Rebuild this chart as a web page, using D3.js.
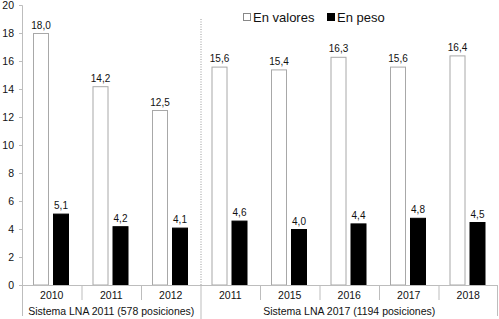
<!DOCTYPE html>
<html><head><meta charset="utf-8">
<script src="https://cdn.jsdelivr.net/npm/d3@7"></script>
<style>body{margin:0;background:#fff}svg{display:block;font-family:"Liberation Sans",Arial,sans-serif}</style>
</head><body><svg id="c" width="499" height="319"></svg>
<script>
const years = ["2010","2011","2012","2011","2015","2016","2017","2018"];
const enValores = [18.0,14.2,12.5,15.6,15.4,16.3,15.6,16.4];
const enPeso = [5.1,4.2,4.1,4.6,4.0,4.4,4.8,4.5];
const groups = ["Sistema LNA 2011 (578 posiciones)","Sistema LNA 2017 (1194 posiciones)"];
const groupSizes = [3,5];
const yTicks = [0,2,4,6,8,10,12,14,16,18,20];
const seriesNames = ["En valores","En peso"];

const svg = d3.select("#c");
const fmt = v => d3.format(".1f")(v).replace(".", ",");
const x = d3.scaleBand().domain(d3.range(years.length)).range([22, 498]).padding(0);
const xs = d3.scaleBand().domain([0,1]).range([11, 47]).paddingInner(0.2);
const y = d3.scaleLinear().domain([0,20]).range([285,5]);
const axisCol = "#bdbdbd", txt = "#111";

// y axis
const ya = svg.append("g").attr("transform","translate(22,0)")
  .call(d3.axisLeft(y).tickValues(yTicks).tickSize(3).tickPadding(5));
ya.select(".domain").attr("stroke",axisCol);
ya.selectAll(".tick line").attr("stroke",axisCol);
ya.selectAll("text").attr("font-size",10.5).attr("fill",txt).attr("font-family","Liberation Sans, Arial");

// group divider dotted
const divX = x(groupSizes[0]);
svg.append("line").attr("x1",divX+0.5).attr("x2",divX+0.5).attr("y1",y(19)).attr("y2",y(0))
  .attr("stroke","#999").attr("stroke-dasharray","1,1.5");

// bars
const series = [enValores, enPeso];
series.forEach((vals,si)=>{
  svg.append("g").selectAll("rect").data(vals).join("rect")
    .attr("x",(d,i)=>x(i)+xs(si)+0.5).attr("width",xs.bandwidth()-1)
    .attr("y",d=>y(d)+0.5).attr("height",d=>y(0)-y(d)-0.5)
    .attr("fill",si===0?"#fff":"#000").attr("stroke",si===0?"#a8a8a8":"#000").attr("stroke-width",1);
  svg.append("g").selectAll("text").data(vals).join("text")
    .attr("x",(d,i)=>x(i)+xs(si)+xs.bandwidth()/2).attr("y",d=>y(d)-4.5)
    .attr("text-anchor","middle").attr("font-size",10).attr("fill",txt).text(fmt);
});

// x axis line
svg.append("line").attr("x1",22).attr("x2",498).attr("y1",285.5).attr("y2",285.5).attr("stroke",axisCol);
// category separators
d3.range(1, years.length).forEach(i=>{
  const isDiv = i===groupSizes[0];
  svg.append("line").attr("x1",x(i)+0.5).attr("x2",x(i)+0.5).attr("y1",285).attr("y2",isDiv?319:300).attr("stroke",axisCol);
});
svg.append("line").attr("x1",22.5).attr("x2",22.5).attr("y1",285).attr("y2",316).attr("stroke",axisCol);
svg.append("line").attr("x1",497.5).attr("x2",497.5).attr("y1",285).attr("y2",316).attr("stroke",axisCol);

// year labels
svg.append("g").selectAll("text").data(years).join("text")
  .attr("x",(d,i)=>x(i)+x.bandwidth()/2).attr("y",299).attr("text-anchor","middle")
  .attr("font-size",10.5).attr("fill",txt).text(d=>d);
// group labels
let start=0;
groups.forEach((g,gi)=>{
  const x0 = x(start), x1 = x(start+groupSizes[gi]-1)+x.bandwidth();
  svg.append("text").attr("x",(x0+x1)/2).attr("y",315).attr("text-anchor","middle")
    .attr("font-size",10.5).attr("fill",txt).text(g);
  start += groupSizes[gi];
});

// legend
const leg = [{n:seriesNames[0],x:243,f:"#fff",s:"#888"},{n:seriesNames[1],x:327,f:"#000",s:"#000"}];
leg.forEach(l=>{
  svg.append("rect").attr("x",l.x+0.5).attr("y",13.5).attr("width",7).attr("height",7).attr("fill",l.f).attr("stroke",l.s);
  svg.append("text").attr("x",l.x+10).attr("y",22).attr("font-size",13).attr("fill",txt).text(l.n);
});
</script></body></html>
